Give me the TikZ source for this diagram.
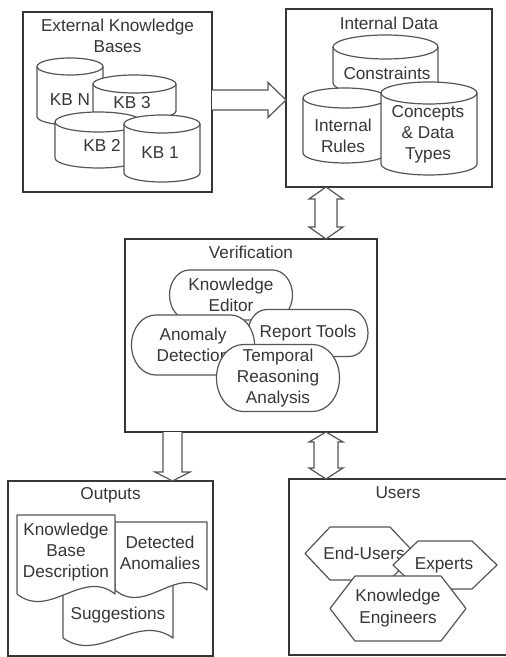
\documentclass[tikz,border=0pt]{standalone}
\usepackage{fontspec}
\setmainfont{Liberation Sans}
\usetikzlibrary{calc}
\definecolor{ink}{HTML}{363636}
\definecolor{lin}{HTML}{555555}
\tikzset{
 box/.style={draw=ink, line width=1.4pt, inner sep=0pt, outer sep=0pt, fill=white},
 txt/.style={text=ink, align=center, inner sep=0pt, font=\fontsize{8.6}{10.6}\selectfont},
 shp/.style={draw=lin, line width=0.6pt, fill=white, line join=round},
 blk/.style={draw=lin, line width=0.6pt, fill=white, line join=miter},
}
\newcommand\mycyl[9]{%
 \pgfmathsetmacro\cylrx{(#3-#2)/4}%
 \pgfmathsetmacro\cylry{#6/2}%
 \pgfmathsetmacro\cylyt{#4+#6}%
 \pgfmathsetmacro\cylyb{#5-#6}%
 \draw[shp] (#2,\cylyt) -- (#2,\cylyb) arc[start angle=180,end angle=360,x radius=\cylrx*1pt,y radius=\cylry*1pt] -- (#3,\cylyt) arc[start angle=0,end angle=180,x radius=\cylrx*1pt,y radius=\cylry*1pt] -- cycle;
 \draw[shp,fill=none] (#2,\cylyt) arc[start angle=180,end angle=360,x radius=\cylrx*1pt,y radius=\cylry*1pt];
 \node[txt] (#1) at (#7,#8) {#9};
}
\newcommand\myhex[8]{%
 \pgfmathsetmacro\hxm{(#4+#5)/2}%
 \pgfmathsetmacro\hxa{#2+25}%
 \pgfmathsetmacro\hxb{#3-25}%
 \draw[shp] (#2,\hxm) -- (\hxa,#4) -- (\hxb,#4) -- (#3,\hxm) -- (\hxb,#5) -- (\hxa,#5) -- cycle;
 \node[txt] (#1) at (#6,#7) {#8};
}
\newcommand\mydoc[8]{%
 \pgfmathsetmacro\dca{#3-(#3-#2)/3}%
 \pgfmathsetmacro\dcb{#2+(#3-#2)/3}%
 \pgfmathsetmacro\dcu{#5-26}%
 \pgfmathsetmacro\dcd{#5+26}%
 \draw[shp] (#2,#4) -- (#3,#4) -- (#3,#5) .. controls (\dca,\dcu) and (\dcb,\dcd) .. (#2,#5) -- cycle;
 \node[txt] (#1) at (#6,#7) {#8};
}
\newcommand\mypill[6]{%
 \pgfmathsetmacro\plrx{0.4*#5}%
 \pgfmathsetmacro\plxa{#2-#4/2+\plrx}%
 \pgfmathsetmacro\plxb{#2+#4/2-\plrx}%
 \pgfmathsetmacro\plyt{#3-#5/2}%
 \pgfmathsetmacro\plyb{#3+#5/2}%
 \draw[shp] (\plxb,\plyt) arc[start angle=90,end angle=-90,x radius=\plrx*0.5pt,y radius=#5*0.25pt] -- (\plxa,\plyb) arc[start angle=270,end angle=90,x radius=\plrx*0.5pt,y radius=#5*0.25pt] -- cycle;
 \node[txt] (#1) at (#2,#3) {#6};
}
\begin{document}
\begin{tikzpicture}[x=0.5pt,y=-0.5pt]
\useasboundingbox (0,0) rectangle (505,657);
\fill[white] (0,0) rectangle (505,657);

% boxes
\node[box, minimum width=94.5pt, minimum height=90pt] (ext) at (117.5,102) {};
\node[box, minimum width=103pt, minimum height=89pt] (int) at (389,98) {};
\node[box, minimum width=126pt, minimum height=96.5pt] (ver) at (251,335.5) {};
\node[box, minimum width=102.5pt, minimum height=87.5pt] (out) at (110.5,568.5) {};
\node[box, minimum width=109pt, minimum height=88pt] (usr) at (398,567) {};

% titles
\node[txt] (extT) at (117.5,36) {External Knowledge\\Bases};
\node[txt] (intT) at (389,23) {Internal Data};
\node[txt] (verT) at (251,252) {Verification};
\node[txt] (outT) at (110.5,495) {Outputs};
\node[txt] (usrT) at (398,493) {Users};

% external knowledge bases
\mycyl{kbn}{37}{103}{58}{125}{8.5}{70}{100}{KB N}
\mycyl{kb3}{93}{176}{75}{120}{9}{132}{103}{KB 3}
\mycyl{kb2}{55}{142}{112}{168}{10}{102}{145}{KB 2}
\mycyl{kb1}{124}{200}{115}{182}{9}{160}{153}{KB 1}

% internal data
\mycyl{cons}{333}{438}{35}{95}{12}{387}{73}{Constraints}
\mycyl{rules}{303}{387}{88}{163}{10}{343}{136}{Internal\\Rules}
\mycyl{conc}{381}{477}{82}{175}{11}{428}{134}{Concepts\\\& Data\\Types}

% verification
\mypill{ked}{231}{295}{123}{50}{Knowledge\\Editor}
\mypill{rep}{308}{333}{120}{47}{Report Tools}
\mypill{ano}{193}{345}{123}{60}{Anomaly\\Detection}
\mypill{tem}{278}{378}{123}{67}{Temporal\\Reasoning\\Analysis}

% outputs
\mydoc{sug}{63}{173}{585}{638}{118}{615}{Suggestions}
\mydoc{det}{115}{207}{522}{590}{160}{553}{Detected\\Anomalies}
\mydoc{kbd}{17}{115}{515}{594}{66}{552}{Knowledge\\Base\\Description}

% users
\myhex{endu}{305}{415}{527}{580}{364}{553}{End-Users}
\myhex{expe}{393}{497}{541}{589}{444}{565}{Experts}
\myhex{keng}{330}{466}{576}{641}{398}{608}{Knowledge\\Engineers}

% block arrows
\coordinate (h) at ($(ext.east)!0.5!(int.west)$);
\coordinate (hs) at (ext.east |- h);
\coordinate (ht) at (int.west |- h);
\draw[blk] ([yshift=5pt]hs) -- ([xshift=-9pt,yshift=5pt]ht) -- ([xshift=-9pt,yshift=8.75pt]ht) -- (ht) -- ([xshift=-9pt,yshift=-8.75pt]ht) -- ([xshift=-9pt,yshift=-5pt]ht) -- ([yshift=-5pt]hs);

\coordinate (v1) at (326,0);
\coordinate (a) at (v1 |- int.south);
\coordinate (b) at (v1 |- ver.north);
\draw[blk] (a) -- ([xshift=8.5pt,yshift=-6pt]a) -- ([xshift=5.5pt,yshift=-6pt]a) -- ([xshift=5.5pt,yshift=6pt]b) -- ([xshift=8.5pt,yshift=6pt]b) -- (b) -- ([xshift=-8.5pt,yshift=6pt]b) -- ([xshift=-5.5pt,yshift=6pt]b) -- ([xshift=-5.5pt,yshift=-6pt]a) -- ([xshift=-8.5pt,yshift=-6pt]a) -- cycle;

\coordinate (c) at (v1 |- ver.south);
\coordinate (d) at (v1 |- usr.north);
\draw[blk] (c) -- ([xshift=8.5pt,yshift=-5pt]c) -- ([xshift=6pt,yshift=-5pt]c) -- ([xshift=6pt,yshift=5.5pt]d) -- ([xshift=8.5pt,yshift=5.5pt]d) -- (d) -- ([xshift=-8.5pt,yshift=5.5pt]d) -- ([xshift=-6pt,yshift=5.5pt]d) -- ([xshift=-6pt,yshift=-5pt]c) -- ([xshift=-8.5pt,yshift=-5pt]c) -- cycle;

\coordinate (v2) at (172.5,0);
\coordinate (s) at (v2 |- ver.south);
\coordinate (t) at (v2 |- out.north);
\draw[blk] ([xshift=-4.75pt]s) -- ([xshift=-4.75pt,yshift=4.5pt]t) -- ([xshift=-8.75pt,yshift=4.5pt]t) -- (t) -- ([xshift=8.75pt,yshift=4.5pt]t) -- ([xshift=4.75pt,yshift=4.5pt]t) -- ([xshift=4.75pt]s);
\end{tikzpicture}
\end{document}
